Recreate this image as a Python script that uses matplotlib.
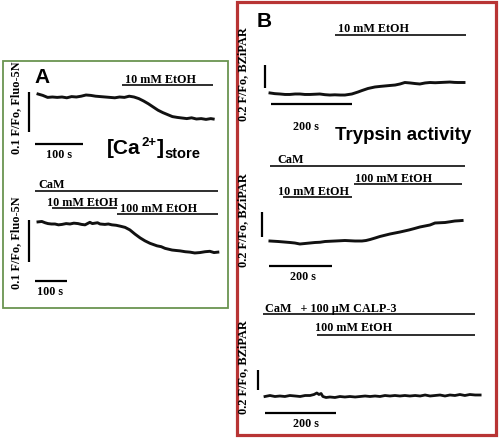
import matplotlib
matplotlib.use("Agg")
import matplotlib.pyplot as plt
from matplotlib.patches import Rectangle

W, H = 500, 438

# ---------------- data (time in s, fluorescence F/Fo) ----------------
# Panel A top: Fluo-5N, 10 mM EtOH
a1_t = [0, 10, 20, 30, 40, 50, 60, 70, 80, 90, 100, 110, 120, 130, 140, 150, 160, 170, 180,
        190, 200, 210, 220, 230, 240, 250, 260, 270, 280, 290, 300, 310, 320, 330, 340, 350, 360, 365]
a1_f = [1.0075, 1.004, 0.999, 1.000, 0.999, 1.000, 0.998, 1.001, 1.000, 1.002, 1.005, 1.004, 1.002,
        1.001, 1.000, 0.999, 0.998, 1.000, 0.999, 1.002, 1.000, 0.996, 0.990, 0.983, 0.975, 0.967,
        0.961, 0.956, 0.951, 0.949, 0.9475, 0.946, 0.948, 0.945, 0.946, 0.944, 0.946, 0.945]
a1_etoh = (175, 365)

# Panel A bottom: CaM, 10 then 100 mM EtOH
a2_t = [0, 12, 22, 31, 42, 53, 64, 75, 88, 100, 112, 125, 136, 147, 162, 170, 178, 186, 194, 209,
        220, 231, 244, 256, 272, 287, 303, 319, 334, 350, 361, 372, 385, 397, 408, 419, 431, 444,
        460, 475, 490, 506, 522, 537, 550, 562]
a2_f = [1.005, 1.006, 1.003, 1.001, 1.000, 1.000, 0.998, 0.999, 1.001, 1.000, 1.002, 1.001, 0.999,
        0.998, 1.004, 1.001, 1.002, 1.003, 1.000, 0.999, 1.000, 0.998, 0.997, 0.995, 0.992, 0.986,
        0.976, 0.967, 0.960, 0.954, 0.951, 0.948, 0.946, 0.942, 0.940, 0.938, 0.937, 0.936, 0.934,
        0.933, 0.931, 0.932, 0.934, 0.935, 0.932, 0.933]
a2_cam = (-9, 562)
a2_etoh10 = (44, 247)
a2_etoh100 = (247, 562)

# Panel B top: BZiPAR, 10 mM EtOH
b1_t = [0, 12, 25, 37, 49, 62, 74, 86, 99, 111, 123, 136, 148, 160, 173, 185, 202, 217, 227, 242,
        259, 272, 284, 296, 309, 321, 333, 346, 358, 370, 383, 395, 408, 420, 432, 444, 455, 464, 479]
b1_f = [1.009, 1.003, 1.000, 0.996, 0.996, 1.000, 1.000, 0.996, 0.996, 0.998, 1.000, 0.994, 0.991,
        0.993, 0.991, 0.991, 1.000, 1.017, 1.030, 1.048, 1.061, 1.066, 1.070, 1.074, 1.078, 1.087,
        1.100, 1.096, 1.091, 1.087, 1.096, 1.100, 1.098, 1.100, 1.102, 1.104, 1.101, 1.100, 1.100]
b1_etoh = (160, 484)

# Panel B middle: CaM, 10 then 100 mM EtOH
b2_t = [3, 16, 29, 48, 67, 82, 98, 114, 130, 146, 162, 178, 194, 210, 226, 241, 257, 273, 295, 308,
        321, 337, 352, 368, 384, 400, 416, 430, 444, 462, 479, 495, 511, 527, 543, 559, 575, 590, 603, 613]
b2_f = [1.000, 0.998, 0.996, 0.992, 0.988, 0.984, 0.976, 0.980, 0.984, 0.988, 0.990, 0.996, 0.998,
        1.000, 1.002, 1.004, 1.002, 1.000, 1.000, 1.004, 1.012, 1.024, 1.036, 1.046, 1.056, 1.064,
        1.072, 1.080, 1.088, 1.100, 1.112, 1.120, 1.128, 1.144, 1.146, 1.148, 1.154, 1.160, 1.162, 1.164]
b2_cam = (3, 622)
b2_etoh10 = (44, 263)
b2_etoh100 = (270, 613)

# Panel B bottom: CaM + CALP-3, 100 mM EtOH
b3_t = [0, 14, 28, 42, 56, 70, 85, 99, 113, 127, 138, 146, 152, 158, 163, 172, 183, 197, 211, 225,
        239, 254, 268, 282, 296, 310, 324, 338, 352, 366, 380, 394, 408, 423, 437, 451, 465, 479,
        493, 507, 521, 535, 549, 563, 577, 592, 606]
b3_f = [0.995, 1.005, 0.995, 1.000, 0.995, 1.005, 1.000, 0.995, 1.005, 1.005, 1.015, 1.030, 1.015,
        1.025, 0.995, 0.985, 0.990, 0.985, 0.995, 0.990, 0.995, 0.990, 0.995, 1.000, 0.995, 1.000,
        0.995, 1.005, 1.000, 1.005, 1.000, 1.005, 1.000, 1.005, 1.000, 1.010, 1.000, 1.005, 1.010,
        1.000, 1.010, 1.005, 1.015, 1.005, 1.015, 1.010, 1.010]
b3_calp = (-6, 592)
b3_etoh100 = (146, 592)

# ---------------- figure ----------------
fig = plt.figure(figsize=(W / 100, H / 100), dpi=100)
ov = fig.add_axes([0, 0, 1, 1])
ov.set_xlim(0, W)
ov.set_ylim(H, 0)
ov.axis('off')

GREEN = '#6a9450'
RED = '#b83434'
ov.add_patch(Rectangle((2.5, 60.5), 225.5, 247.5, fill=False, ec=GREEN, lw=1.3))
ov.add_patch(Rectangle((237, 2), 259, 433, fill=False, ec=RED, lw=2.3))


def panel(box, x0px, sx, y0px, sy):
    l, t, r, b = box
    ax = fig.add_axes([l / W, 1 - b / H, (r - l) / W, (b - t) / H])
    ax.set_xlim((l - x0px) / sx, (r - x0px) / sx)
    ax.set_ylim(1 - (b - y0px) / sy, 1 - (t - y0px) / sy)
    ax.axis('off')
    ax.patch.set_alpha(0)
    return ax


TR = dict(color='#111111', lw=2.1, solid_joinstyle='round')
BAR = dict(color='black', lw=1.15, solid_capstyle='butt')
SB = dict(color='black', lw=1.6, solid_capstyle='butt')


def hbar(ax, span, level):
    ax.plot(list(span), [level, level], **BAR)


def scalebars(ax, hx, hy, hlen, vx, vtop, vlen):
    ax.plot([hx, hx + hlen], [hy, hy], **SB)
    ax.plot([vx, vx], [vtop, vtop - vlen], **SB)


# A top
ax = panel((2, 60, 228, 170), 38, 0.48, 97, 400)
ax.plot(a1_t, a1_f, **TR)
hbar(ax, a1_etoh, 1.03)
scalebars(ax, -6, 0.8825, 100, -19, 1.0125, 0.1)

# A bottom
ax = panel((2, 170, 228, 308), 38, 0.32, 224, 420)
ax.plot(a2_t, a2_f, **TR)
hbar(ax, a2_cam, 1.0786)
hbar(ax, a2_etoh10, 1.038)
hbar(ax, a2_etoh100, 1.0238)
scalebars(ax, -9, 0.864, 100, -28, 1.0095, 0.1)

# B top
ax = panel((236, 2, 497, 145), 270, 0.405, 94, 115)
ax.plot(b1_t, b1_f, **TR)
hbar(ax, b1_etoh, 1.513)
scalebars(ax, 2, 0.913, 200, -12, 1.252, 0.2)

# B middle
ax = panel((236, 145, 497, 290), 269, 0.315, 241, 125)
ax.plot(b2_t, b2_f, **TR)
hbar(ax, b2_cam, 1.6)
hbar(ax, b2_etoh100, 1.456)
hbar(ax, b2_etoh10, 1.352)
scalebars(ax, 0, 0.8, 200, -22, 1.232, 0.2)

# B bottom
ax = panel((236, 290, 497, 436), 265, 0.355, 396, 100)
ax.plot(b3_t, b3_f, color='#111111', lw=2.0)
hbar(ax, b3_calp, 1.82)
hbar(ax, b3_etoh100, 1.61)
scalebars(ax, 0, 0.83, 200, -20, 1.26, 0.2)

# ---------------- texts ----------------
SER = dict(family='Liberation Serif', fontweight='bold', fontsize=8.7, color='black')
VL = dict(family='Liberation Serif', fontweight='bold', fontsize=8.8, color='black',
          rotation=90, ha='center', va='center')
SANS = dict(family='Liberation Sans', fontweight='bold', color='black')

ov.text(34, 83, 'A', fontsize=15, ha='left', va='baseline', **SANS)
ov.text(257, 27, 'B', fontsize=15, ha='left', va='baseline', **SANS)

ov.text(125, 83, '10 mM EtOH', ha='left', va='baseline', **SER)
ov.text(59, 158, '100 s', ha='center', va='baseline', **SER)

# [Ca2+]store built from pieces
t1 = ov.text(107, 154, '[Ca', fontsize=15, ha='left', va='baseline', **SANS)
t2 = ov.annotate('2+', xy=(1, 146.5), xycoords=(t1, 'data'), xytext=(0.5, 0),
                 textcoords='offset points', fontsize=9.5, ha='left', va='baseline', **SANS)
t3 = ov.annotate(']', xy=(1, 154), xycoords=(t2, 'data'), xytext=(0.2, 0),
                 textcoords='offset points', fontsize=15, ha='left', va='baseline', **SANS)
t4 = ov.annotate('store', xy=(1, 157.5), xycoords=(t3, 'data'), xytext=(0.3, 0),
                 textcoords='offset points', fontsize=10.5, ha='left', va='baseline', **SANS)

ov.text(16, 108, '0.1 F/Fo, Fluo-5N', **VL)

ov.text(38, 188, 'CaM', ha='left', va='baseline', **SER)
ov.text(47, 206, '10 mM EtOH', ha='left', va='baseline', **SER)
ov.text(120, 212, '100 mM EtOH', ha='left', va='baseline', **SER)
ov.text(37, 295, '100 s', ha='left', va='baseline', **SER)
ov.text(16, 243, '0.1 F/Fo, Fluo-5N', **VL)

ov.text(338, 32, '10 mM EtOH', ha='left', va='baseline', **SER)
ov.text(306, 130, '200 s', ha='center', va='baseline', **SER)
ov.text(335, 140, 'Trypsin activity', fontsize=13.5, ha='left', va='baseline', **SANS)
ov.text(243, 74, '0.2 F/Fo, BZiPAR', **VL)

ov.text(277, 163, 'CaM', ha='left', va='baseline', **SER)
ov.text(355, 182, '100 mM EtOH', ha='left', va='baseline', **SER)
ov.text(278, 195, '10 mM EtOH', ha='left', va='baseline', **SER)
ov.text(290, 280, '200 s', ha='left', va='baseline', **SER)
ov.text(243, 220, '0.2 F/Fo, BZiPAR', **VL)

ov.text(265, 312, 'CaM   + 100 \u03bcM CALP-3', ha='left', va='baseline', **SER)
ov.text(315, 331, '100 mM EtOH', ha='left', va='baseline', **SER)
ov.text(293, 427, '200 s', ha='left', va='baseline', **SER)
ov.text(243, 367, '0.2 F/Fo, BZiPAR', **VL)

fig.savefig('out.png', dpi=100)
